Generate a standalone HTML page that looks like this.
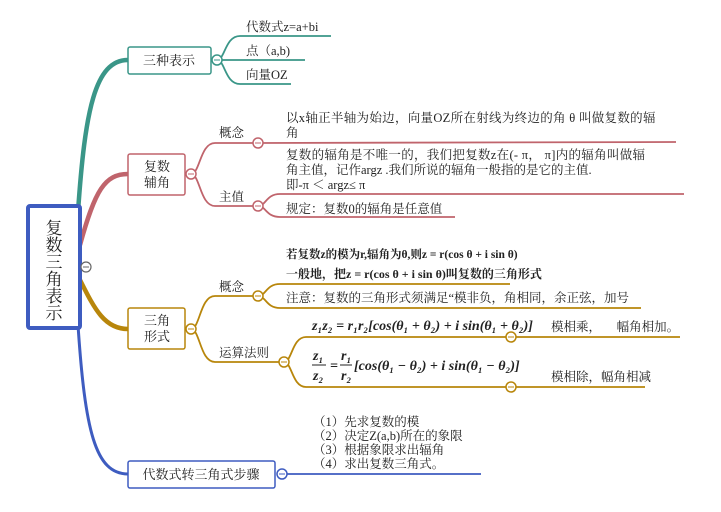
<!DOCTYPE html>
<html><head><meta charset="utf-8"><style>
body{margin:0;background:#fff;width:721px;height:507px;overflow:hidden}
svg text{font-family:"Liberation Serif","Noto Serif CJK SC","Noto Sans CJK SC",serif;font-size:12.5px;fill:#222}
.m{font-family:"Liberation Serif",serif;font-style:italic;font-weight:bold;font-size:14px}
</style></head><body>
<svg width="721" height="507" viewBox="0 0 721 507" fill="none">
<path d="M78 212 C85 110 95 60 128 60" stroke="#3a9688" stroke-width="4.5"/>
<path d="M80 245 C95 190 105 174 128 174" stroke="#c0646c" stroke-width="4.5"/>
<path d="M80 280 C95 310 105 329 128 329" stroke="#b8860b" stroke-width="4.5"/>
<path d="M78 325 C85 430 95 474 128 474" stroke="#3e5cc0" stroke-width="3"/>
<rect x="28" y="206" width="52" height="122" rx="2" stroke="#3e5cc0" stroke-width="4" fill="#fff"/>
<text x="54" y="234" text-anchor="middle" style="font-size:17px">复</text>
<text x="54" y="251" text-anchor="middle" style="font-size:17px">数</text>
<text x="54" y="268" text-anchor="middle" style="font-size:17px">三</text>
<text x="54" y="285" text-anchor="middle" style="font-size:17px">角</text>
<text x="54" y="302" text-anchor="middle" style="font-size:17px">表</text>
<text x="54" y="319" text-anchor="middle" style="font-size:17px">示</text>
<circle cx="86" cy="267" r="5" stroke="#666" stroke-width="1.2" fill="#fff"/><line x1="83" y1="267" x2="89" y2="267" stroke="#666"/>
<rect x="128" y="47" width="83" height="27" rx="2" stroke="#3a9688" stroke-width="1.5" fill="#fff"/>
<text x="169" y="65" text-anchor="middle" style="font-size:13px">三种表示</text>
<path d="M217 60 C225 60 225 36 240 36 L331 36 M217 60 L305 60 M217 60 C225 60 225 84 240 84 L291 84" stroke="#3a9688" stroke-width="1.8"/>
<circle cx="217" cy="60" r="5" stroke="#3a9688" stroke-width="1.5" fill="#fff"/><line x1="214" y1="60" x2="220" y2="60" stroke="#3a9688"/>
<text x="246" y="31">代数式z=a+bi</text>
<text x="246" y="55">点（a,b)</text>
<text x="246" y="79">向量OZ</text>
<rect x="128" y="154" width="57" height="41" rx="2" stroke="#c0646c" stroke-width="1.5" fill="#fff"/>
<text x="157" y="171" text-anchor="middle" style="font-size:13px">复数</text>
<text x="157" y="187" text-anchor="middle" style="font-size:13px">辅角</text>
<path d="M191 174 C200 174 200 143 215 143 L258 143 M191 174 C200 174 200 206 215 206 L258 206" stroke="#c0646c" stroke-width="1.8"/>
<path d="M258 143 L676 142 M258 206 C266 206 266 194 280 194 L684 194 M258 206 C266 206 266 217 280 217 L455 217" stroke="#c0646c" stroke-width="1.8"/>
<circle cx="191" cy="174" r="5" stroke="#c0646c" stroke-width="1.5" fill="#fff"/><line x1="188" y1="174" x2="194" y2="174" stroke="#c0646c"/>
<circle cx="258" cy="143" r="5" stroke="#c0646c" stroke-width="1.5" fill="#fff"/><line x1="255" y1="143" x2="261" y2="143" stroke="#c0646c"/>
<circle cx="258" cy="206" r="5" stroke="#c0646c" stroke-width="1.5" fill="#fff"/><line x1="255" y1="206" x2="261" y2="206" stroke="#c0646c"/>
<text x="219" y="137">概念</text>
<text x="219" y="201">主值</text>
<text x="286" y="122" style="letter-spacing:0.3px">以x轴正半轴为始边，向量OZ所在射线为终边的角 θ 叫做复数的辐</text>
<text x="286" y="137">角</text>
<text x="286" y="159" style="letter-spacing:0.3px">复数的辐角是不唯一的，我们把复数z在(- π， π]内的辐角叫做辐</text>
<text x="286" y="174">角主值，记作argz .我们所说的辐角一般指的是它的主值.</text>
<text x="286" y="189">即-π ＜ argz≤ π</text>
<text x="286" y="213">规定：复数0的辐角是任意值</text>
<rect x="128" y="308" width="57" height="41" rx="2" stroke="#b8860b" stroke-width="1.5" fill="#fff"/>
<text x="157" y="325" text-anchor="middle" style="font-size:13px">三角</text>
<text x="157" y="341" text-anchor="middle" style="font-size:13px">形式</text>
<path d="M191 329 C200 329 200 296 215 296 L258 296 M191 329 C200 329 200 362 215 362 L284 362" stroke="#b8860b" stroke-width="1.8"/>
<path d="M258 296 C266 296 266 284 280 284 L510 284 M258 296 C266 296 266 308 280 308 L641 308 M284 362 C292 362 292 337 306 337 L680 337 M284 362 C292 362 292 387 306 387 L645 387" stroke="#b8860b" stroke-width="1.8"/>
<circle cx="191" cy="329" r="5" stroke="#b8860b" stroke-width="1.5" fill="#fff"/><line x1="188" y1="329" x2="194" y2="329" stroke="#b8860b"/>
<circle cx="258" cy="296" r="5" stroke="#b8860b" stroke-width="1.5" fill="#fff"/><line x1="255" y1="296" x2="261" y2="296" stroke="#b8860b"/>
<circle cx="284" cy="362" r="5" stroke="#b8860b" stroke-width="1.5" fill="#fff"/><line x1="281" y1="362" x2="287" y2="362" stroke="#b8860b"/>
<circle cx="511" cy="337" r="5" stroke="#b8860b" stroke-width="1.5" fill="#fff"/><line x1="508" y1="337" x2="514" y2="337" stroke="#b8860b"/>
<circle cx="511" cy="387" r="5" stroke="#b8860b" stroke-width="1.5" fill="#fff"/><line x1="508" y1="387" x2="514" y2="387" stroke="#b8860b"/>
<text x="219" y="291">概念</text>
<text x="219" y="357">运算法则</text>
<text x="286" y="258" style="font-weight:bold;font-size:11.5px">若复数z的模为r,辐角为θ,则z = r(cos θ + i sin θ)</text>
<text x="286" y="278" style="font-weight:bold;font-size:12px">一般地，把z = r(cos θ + i sin θ)叫复数的三角形式</text>
<text x="286" y="302">注意：复数的三角形式须满足“模非负，角相同，余正弦，加号</text>
<text x="312" y="330" class="m">z₁z₂ = r₁r₂[cos(θ₁ + θ₂) + i sin(θ₁ + θ₂)]</text>
<text x="313" y="360" class="m">z₁</text>
<line x1="312" y1="365" x2="326" y2="365" stroke="#222"/>
<text x="313" y="380" class="m">z₂</text>
<text x="330" y="370" class="m">=</text>
<text x="341" y="360" class="m">r₁</text>
<line x1="340" y1="365" x2="352" y2="365" stroke="#222"/>
<text x="341" y="380" class="m">r₂</text>
<text x="354" y="370" class="m">[cos(θ₁ − θ₂) + i sin(θ₁ − θ₂)]</text>
<text x="551" y="331">模相乘，&#160;&#160;&#160;&#160;&#160;幅角相加。</text>
<text x="551" y="381">模相除，幅角相减</text>
<rect x="128" y="461" width="147" height="27" rx="2" stroke="#3e5cc0" stroke-width="1.5" fill="#fff"/>
<text x="201" y="479" text-anchor="middle" style="font-size:13px">代数式转三角式步骤</text>
<path d="M282 474 L481 474" stroke="#3e5cc0" stroke-width="1.8"/>
<circle cx="282" cy="474" r="5" stroke="#3e5cc0" stroke-width="1.5" fill="#fff"/><line x1="279" y1="474" x2="285" y2="474" stroke="#3e5cc0"/>
<text x="313" y="426">（1）先求复数的模</text>
<text x="313" y="440">（2）决定Z(a,b)所在的象限</text>
<text x="313" y="454">（3）根据象限求出辐角</text>
<text x="313" y="468">（4）求出复数三角式。</text>
</svg>
</body></html>
